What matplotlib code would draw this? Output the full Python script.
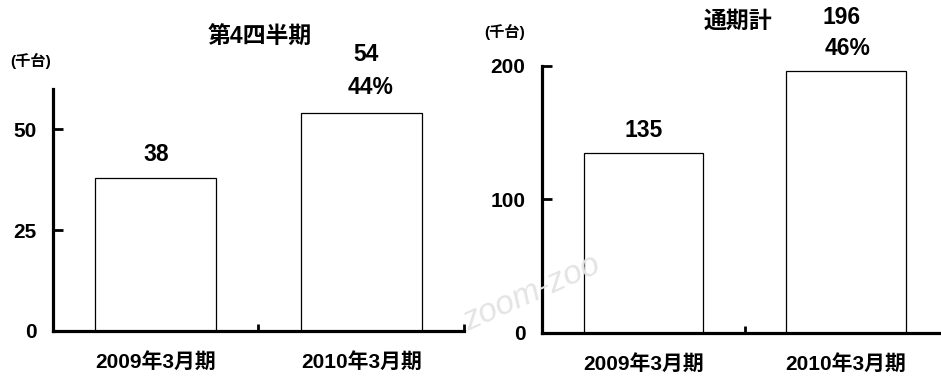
import numpy as np
import matplotlib.pyplot as plt

plt.rcParams['font.family'] = ['Liberation Sans', 'Noto Sans CJK JP']
plt.rcParams['font.weight'] = 'bold'

periods = ['2009年3月期', '2010年3月期']
q4_values = [38, 54]
q4_growth = ['', '44%']
year_values = [135, 196]
year_growth = ['', '46%']

fig = plt.figure(figsize=(9.41, 3.76), dpi=100)

# faint watermark in the background
fig.text(0.565, 0.22, 'zoom-zoo', rotation=24, color='#e4e4e4', fontsize=24,
         style='italic', fontweight='normal', ha='center', va='center', zorder=0)


def draw_panel(rect, values, growth, ylim, yticks, dx_val, dx_pct, dy_val, dy_pct, dy_single):
    ax = fig.add_axes(rect)
    ax.patch.set_alpha(0)
    x = np.arange(len(values))
    ax.bar(x, values, width=0.59, color='white', edgecolor='black', linewidth=0.9, zorder=2)
    ax.set_xlim(-0.5, len(values) - 0.5)
    ax.set_ylim(*ylim)
    ax.set_yticks(yticks)
    ax.set_xticks(np.arange(len(values) + 1) - 0.5)
    ax.set_xticklabels([])
    ax.set_xticks(x, minor=True)
    ax.set_xticklabels(periods, minor=True, fontsize=15, fontweight='bold')
    ax.tick_params(axis='x', which='minor', length=0, pad=15)
    ax.tick_params(axis='x', which='major', direction='in', length=5, width=2)
    ax.tick_params(axis='y', direction='in', length=7, width=2, pad=12, labelsize=15)
    for lab in ax.get_yticklabels():
        lab.set_fontweight('bold')
    for s in ['top', 'right']:
        ax.spines[s].set_visible(False)
    for s in ['left', 'bottom']:
        ax.spines[s].set_linewidth(2.3)
    ax.spines['bottom'].set_clip_on(False)
    for xi, v, g in zip(x, values, growth):
        if g:
            ax.annotate(str(v), (xi, v), xytext=(dx_val, dy_val), textcoords='offset points',
                        ha='center', va='center', fontsize=16.5, fontweight='bold')
            ax.annotate(g, (xi, v), xytext=(dx_pct, dy_pct), textcoords='offset points',
                        ha='center', va='center', fontsize=16.5, fontweight='bold')
        else:
            ax.annotate(str(v), (xi, v), xytext=(0, dy_single), textcoords='offset points',
                        ha='center', va='center', fontsize=16.5, fontweight='bold')
    return ax


draw_panel([0.0563, 0.1197, 0.4368, 0.6436], q4_values, q4_growth, (0, 60), [0, 25, 50],
           3.5, 6.5, 42, 18.5, 17)
draw_panel([0.576, 0.1144, 0.4304, 0.7101], year_values, year_growth, (0, 200), [0, 100, 200],
           -3, 1.5, 39, 16.5, 16)

fig.text(0.2763, 0.900, '第4四半期', ha='center', va='center', fontsize=16.5, fontweight='bold')
fig.text(0.7843, 0.943, '通期計', ha='center', va='center', fontsize=16.5, fontweight='bold')
fig.text(0.0329, 0.8378, '(千台)', ha='center', va='center', fontsize=11, fontweight='bold')
fig.text(0.5367, 0.9149, '(千台)', ha='center', va='center', fontsize=11, fontweight='bold')

fig.savefig('out.png', dpi=100)
